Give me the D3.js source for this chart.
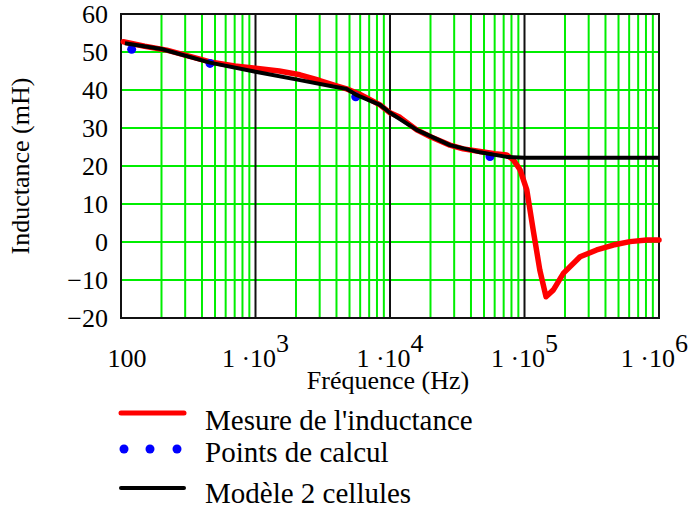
<!DOCTYPE html>
<html>
<head>
<meta charset="utf-8">
<script src="https://cdn.jsdelivr.net/npm/d3@7"></script>
<style>
  body { margin: 0; background: #fff; }
  svg, svg text { font-family: 'Liberation Serif', 'DejaVu Serif', serif; fill: #000; }
</style>
</head>
<body>
<div id="chart"></div>
<script>
// Measured inductance (Hz, mH)
const mesureFreq = [104, 150, 219, 300, 459, 700, 1000, 1500, 2140, 3000, 4000, 4760, 6000, 8430, 10000, 11860, 15800, 20000, 27900, 35000, 46700, 60000, 73800, 82600, 92700, 104000, 116000, 130000, 144500, 164000, 195000, 259000, 344000, 457000, 608000, 810000, 1000000];
const mesureL = [52.7, 51.5, 50.5, 49.2, 47.4, 46.3, 45.7, 45.0, 44.0, 42.5, 41.1, 40.3, 38.8, 36.1, 34.0, 32.8, 29.5, 27.7, 25.5, 24.5, 23.8, 23.2, 22.9, 21.6, 19.0, 13.7, 3.2, -7.4, -14.4, -12.6, -8.2, -3.9, -2.1, -0.8, 0.1, 0.5, 0.5];

// Calculation points
const calcFreq = [120, 459, 5560, 55400];
const calcL = [50.7, 47.0, 38.2, 22.5];

// Two-cell model
const modeleFreq = [107, 200, 459, 1000, 2140, 3780, 4760, 5560, 8430, 10000, 15800, 27900, 46700, 73800, 100000, 1000000];
const modeleL = [52.3, 50.8, 47.2, 44.8, 42.6, 40.9, 40.3, 38.8, 36.1, 34.0, 29.5, 25.5, 23.6, 22.4, 22.2, 22.2];

const yTicks = [60, 50, 40, 30, 20, 10, 0, -10, -20];
const decades = [100, 1e3, 1e4, 1e5, 1e6];

const W = 690, H = 511;
const margin = { top: 14, left: 121, right: 31, bottom: 193 };
const iw = W - margin.left - margin.right;
const ih = H - margin.top - margin.bottom;
const FONT = "'Liberation Serif', 'DejaVu Serif', serif";

const svg = d3.select("#chart").append("svg").attr("width", W).attr("height", H)
  .attr("font-family", FONT);
const g = svg.append("g").attr("transform", `translate(${margin.left},${margin.top})`);

const x = d3.scaleLog().domain([100, 1e6]).range([0, iw]);
const y = d3.scaleLinear().domain([-20, 60]).range([ih, 0]);

// minor grid (green)
const minor = [];
for (let d = 100; d < 1e6; d *= 10) for (let k = 2; k <= 9; k++) minor.push(d * k);
g.selectAll(".vminor").data(minor).join("line")
  .attr("x1", d => x(d)).attr("x2", d => x(d))
  .attr("y1", 0).attr("y2", ih)
  .attr("stroke", "#00ee00").attr("stroke-width", 2);
g.selectAll(".hgrid").data(yTicks).join("line")
  .attr("x1", 0).attr("x2", iw)
  .attr("y1", d => y(d)).attr("y2", d => y(d))
  .attr("stroke", "#00ee00").attr("stroke-width", 2);
// decade lines (black)
g.selectAll(".vmajor").data(decades).join("line")
  .attr("x1", d => x(d)).attr("x2", d => x(d))
  .attr("y1", 0).attr("y2", ih)
  .attr("stroke", "#111").attr("stroke-width", 2);

// frame
g.append("rect").attr("width", iw).attr("height", ih)
  .attr("fill", "none").attr("stroke", "#111").attr("stroke-width", 2);

// series
const line = d3.line().x(d => x(d[0])).y(d => y(d[1]));
g.append("path")
  .datum(mesureFreq.map((f, i) => [f, mesureL[i]]))
  .attr("d", line).attr("fill", "none")
  .attr("stroke", "#ff0000").attr("stroke-width", 5.5)
  .attr("stroke-linejoin", "round").attr("stroke-linecap", "round");

g.selectAll(".calc").data(calcFreq.map((f, i) => [f, calcL[i]])).join("circle")
  .attr("cx", d => x(d[0])).attr("cy", d => y(d[1])).attr("r", 4.5)
  .attr("fill", "#0000ff");

g.append("path")
  .datum(modeleFreq.map((f, i) => [f, modeleL[i]]))
  .attr("d", line).attr("fill", "none")
  .attr("stroke", "#000").attr("stroke-width", 4)
  .attr("stroke-linejoin", "round");

// y tick labels
g.selectAll(".ylab").data(yTicks).join("text")
  .attr("x", -13).attr("y", d => y(d)).attr("dy", "0.35em")
  .attr("text-anchor", "end").style("font-size", "26px")
  .text(d => d < 0 ? "\u2212" + Math.abs(d) : d);

// x tick labels
decades.forEach(d => {
  const t = g.append("text")
    .attr("x", x(d)).attr("y", ih + 49)
    .attr("text-anchor", "middle").style("font-size", "26px");
  if (d === 100) {
    t.attr("x", x(d) + 6).text("100");
  } else {
    if (d === 1e6) t.attr("text-anchor", "end").attr("x", iw + 29);
    t.append("tspan").text("1 \u00b710");
    t.append("tspan").attr("dy", -15).text(Math.round(Math.log10(d)));
  }
});

// axis titles
svg.append("text")
  .attr("x", 388).attr("y", 389)
  .attr("text-anchor", "middle").style("font-size", "26px")
  .text("Fréquence (Hz)");
svg.append("text")
  .attr("transform", "translate(29,166) rotate(-90)")
  .attr("text-anchor", "middle").style("font-size", "26px")
  .text("Inductance (mH)");

// legend
const leg = svg.append("g");
leg.append("line").attr("x1", 121).attr("x2", 184).attr("y1", 413).attr("y2", 413)
  .attr("stroke", "#ff0000").attr("stroke-width", 5).attr("stroke-linecap", "round");
leg.selectAll(".ldot").data([124, 150, 177]).join("circle")
  .attr("cx", d => d).attr("cy", 449).attr("r", 4.5).attr("fill", "#0000ff");
leg.append("line").attr("x1", 121).attr("x2", 184).attr("y1", 488).attr("y2", 488)
  .attr("stroke", "#000").attr("stroke-width", 4).attr("stroke-linecap", "round");
const legText = ["Mesure de l'inductance", "Points de calcul", "Modèle 2 cellules"];
const legY = [430, 462, 503];
leg.selectAll(".ltxt").data(legText).join("text")
  .attr("x", 205).attr("y", (d, i) => legY[i])
  .style("font-size", "29px").text(d => d);
</script>
</body>
</html>
